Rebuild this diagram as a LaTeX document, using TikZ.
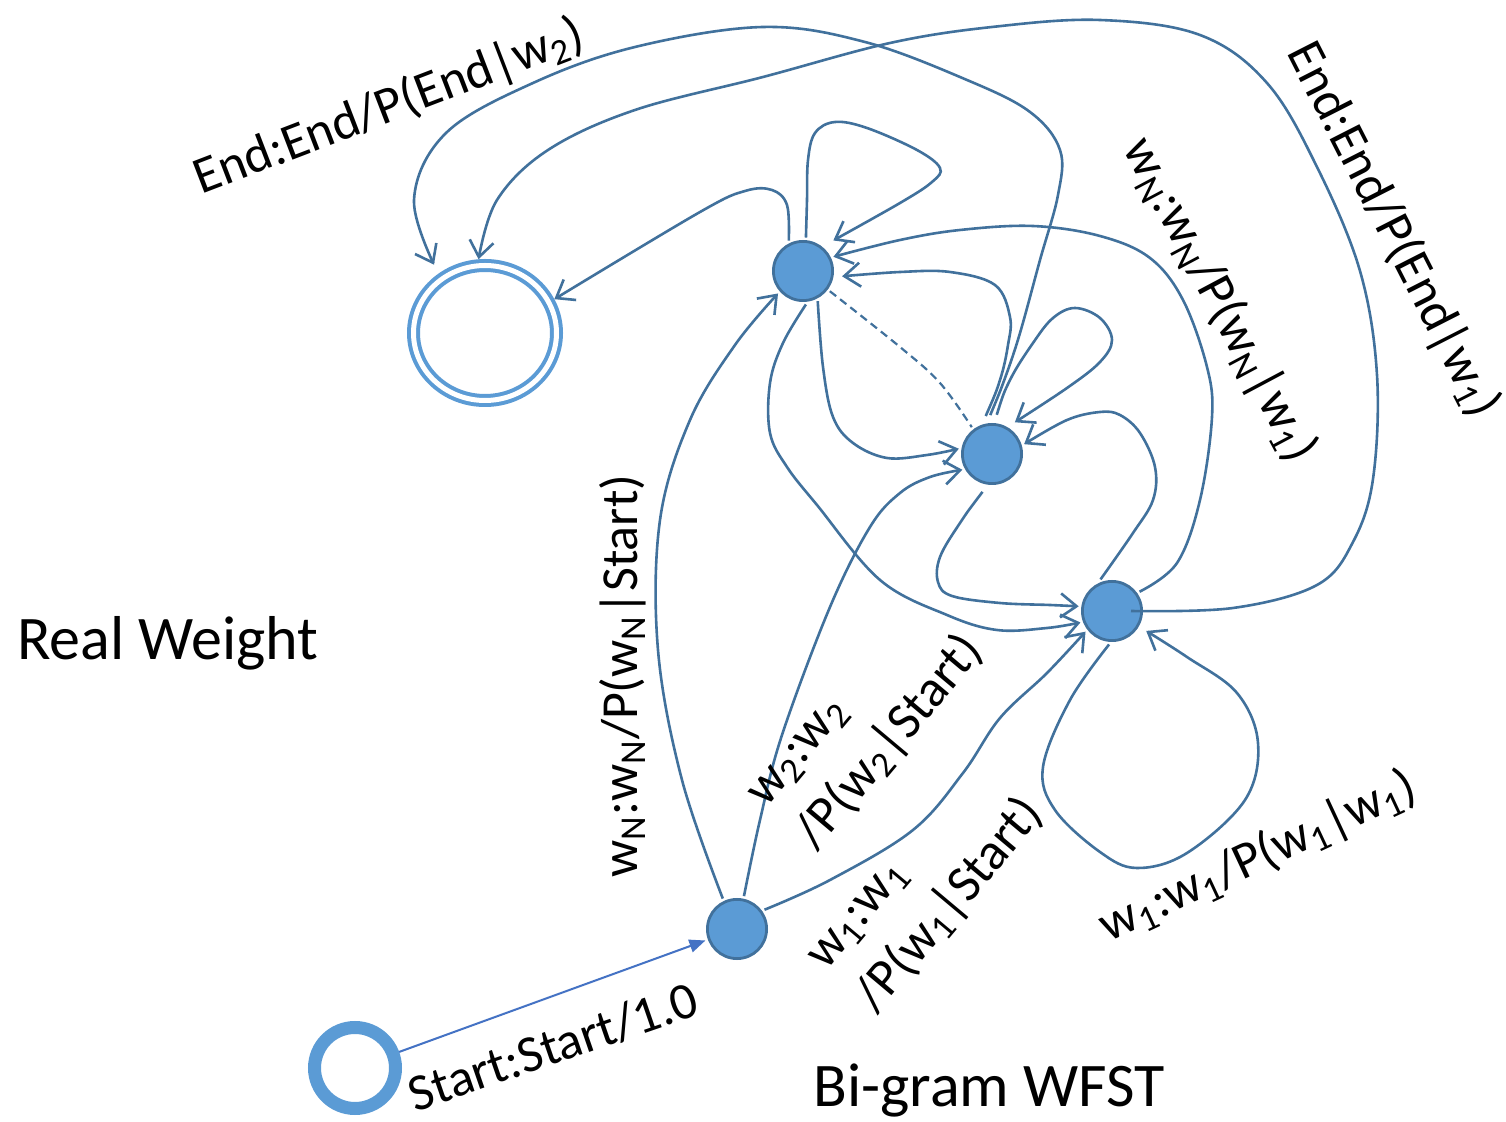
\documentclass[tikz,border=0pt]{standalone}
\usepackage{fontspec}
\setmainfont{Carlito}
\usetikzlibrary{arrows.meta,shapes.geometric}
\definecolor{edgec}{HTML}{41719C}
\definecolor{fillc}{HTML}{5B9BD5}
\definecolor{startc}{HTML}{4472C4}
\begin{document}
\begin{tikzpicture}[x=0.5pt,y=-0.5pt,
  edge/.style={draw=edgec, line width=1.3pt, -{Straight Barb[length=8pt,width=12pt]}},
  state/.style={circle, fill=fillc, draw=edgec, line width=1.4pt, minimum size=29.6pt, inner sep=0pt, outer sep=2pt},
  startst/.style={circle, draw=fillc, line width=6.5pt, minimum size=40.5pt, inner sep=0pt},
  finalst/.style={ellipse, draw=fillc, line width=2pt, double=white, double distance=2.5pt, minimum width=71.5pt, minimum height=67.5pt, inner sep=0pt, outer sep=3.25pt},
  lbl/.style={font=\fontsize{26}{33}\selectfont, inner sep=0pt},
  big/.style={font=\fontsize{31}{37}\selectfont, inner sep=0pt}]
\useasboundingbox[fill=white] (0,0) rectangle (1506,1122);

% states
\node[state] (a) at (737,929) {};
\node[state] (w2) at (803,271) {};
\node[state] (wn) at (992,454) {};
\node[state] (w1) at (1112,611) {};
\node[startst] (s) at (355,1068) {};
\node[finalst] (f) at (485,333) {};

% start arc
\draw[startc, line width=1pt, -{Triangle[length=8pt,width=6.5pt]}] (s) -- (a);

% A -> w2
\draw[edge] plot[smooth,tension=0.6] coordinates {(a.115) (682,780) (658,650) (660,520) (690,420) (735,345) (w2.222)};
% A -> wN
\draw[edge] plot[smooth,tension=0.6] coordinates {(a.78) (760,820) (782,735) (830,607) (870,527) (900,493) (930,477) (wn.208)};
% A -> w1
\draw[edge] plot[smooth,tension=0.6] coordinates {(a.35) (830,880) (913,830) (963,773) (1000,718) (1047,673) (w1.218)};
% w1 self loop
\draw[edge, shorten >=3pt] plot[smooth,tension=0.6] coordinates {(w1.265) (1070,700) (1043,767) (1055,810) (1100,852) (1137,868) (1187,853) (1245,800) (1258,743) (1237,693) (1187,657) (w1.330)};
% w1 -> final
\draw[edge] plot[smooth,tension=0.6] coordinates {([xshift=9.5pt]w1.center) (1233,608) (1317,585) (1353,542) (1373,479) (1377,375) (1360,271) (1317,167) (1267,83) (1200,35) (1100,20) (992,27) (890,43) (763,77) (635,110) (548,150) (497,200) (f.95)};
% wN -> final
\draw[edge, shorten <=3pt, shorten >=5pt] plot[smooth,tension=0.6] coordinates {(wn.97) (1005,378) (1020,333) (1040,260) (1058,195) (1060,150) (1030,112) (967,80) (865,42) (763,27) (635,47) (533,83) (446,133) (414,200) (f.128)};
% wN self loop
\draw[edge, shorten <=3pt, shorten >=3pt] plot[smooth,tension=0.6] coordinates {(wn.85) (1010,380) (1033,343) (1053,318) (1075,308) (1100,318) (1112,340) (1100,362) (1067,388) (wn.58)};
% wN -> w2
\draw[edge, shorten <=3pt, shorten >=3pt] plot[smooth,tension=0.6] coordinates {(wn.105) (1000,380) (1008,345) (1010,317) (995,285) (950,272) (900,272) (w2.350)};
% w1 -> w2
\draw[edge] plot[smooth,tension=0.6] coordinates {(w1.35) (1177,563) (1200,500) (1212,417) (1207,367) (1183,300) (1150,258) (1100,236) (1033,226) (960,230) (900,240) (w2.25)};
% w2 self loop
\draw[edge, shorten >=5pt] plot[smooth,tension=0.6] coordinates {(w2.85) (807,200) (808,160) (815,133) (835,122) (867,128) (917,150) (940,168) (932,182) (900,203) (w2.50)};
% w2 -> final
\draw[edge] plot[smooth,tension=0.6] coordinates {(w2.115) (787,205) (772,190) (745,191) (700,212) (f.26)};
% w2 -> wN
\draw[edge] plot[smooth,tension=0.6] coordinates {(w2.296) (823,367) (833,417) (853,443) (887,458) (927,455) (wn.171)};
% w2 -> w1
\draw[edge] plot[smooth,tension=0.6] coordinates {(w2.275) (783,343) (770,383) (770,433) (787,467) (817,505) (880,580) (947,615) (997,630) (1047,628) (w1.200)};
% wN -> w1
\draw[edge, shorten <=3pt] plot[smooth,tension=0.6] coordinates {(wn.260) (960,523) (940,557) (938,582) (952,596) (1000,603) (1050,605) (w1.172)};
% w1 -> wN
\draw[edge] plot[smooth,tension=0.6] coordinates {(w1.110) (1133,533) (1153,500) (1155,467) (1140,433) (1120,415) (1100,412) (1067,420) (wn.17)};
% dashed
\draw[edgec, line width=1.1pt, dash pattern=on 4pt off 2.5pt] plot[smooth,tension=0.6] coordinates {(w2.323) (900,347) (940,383) (wn.127)};

% labels
\node[lbl, rotate=90] (l1) at (623,676) {w\textsubscript{N}:w\textsubscript{N}/P(w\textsubscript{N}|Start)};
\node[lbl, rotate=50, align=left] (l2) at (869,725) {w\textsubscript{2}:w\textsubscript{2}\\/P(w\textsubscript{2}|Start)};
\node[lbl, rotate=50, align=left] (l3) at (929,888) {w\textsubscript{1}:w\textsubscript{1}\\/P(w\textsubscript{1}|Start)};
\node[lbl, rotate=25] (l4) at (1258,857) {w\textsubscript{1}:w\textsubscript{1}/P(w\textsubscript{1}|w\textsubscript{1})};
\node[lbl, rotate=-62] (l5) at (1220,300) {w\textsubscript{N}:w\textsubscript{N}/P(w\textsubscript{N}|w\textsubscript{1})};
\node[lbl, rotate=-63] (l6) at (1393,230) {End:End/P(End|w\textsubscript{1})};
\node[lbl, rotate=21] (l7) at (389,107) {End:End/P(End|w\textsubscript{2})};
\node[lbl, rotate=19] (l8) at (553,1047) {Start:Start/1.0};
\node[big] (rw) at (168,643) {Real Weight};
\node[big] (bg) at (989,1090) {Bi-gram WFST};
\end{tikzpicture}
\end{document}
